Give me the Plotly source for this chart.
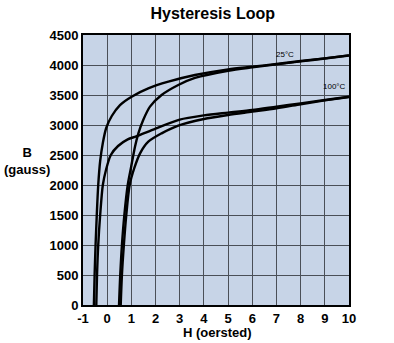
import plotly.graph_objects as go

# Magnetization curves, H in oersted, B in gauss
# 25 °C: descending and ascending branches
h_25_down = [-0.55, -0.52, -0.48, -0.43, -0.37, -0.29, -0.18, -0.04, 0.19, 0.53, 1.01, 1.70, 2.53, 3.63, 5, 6, 7, 8, 9, 10]
b_25_down = [0, 500, 1000, 1500, 2000, 2400, 2700, 2950, 3150, 3333, 3472, 3611, 3722, 3833, 3928, 3972, 4017, 4067, 4111, 4161]

h_25_up = [0.49, 0.54, 0.61, 0.71, 0.85, 0.99, 1.15, 1.29, 1.49, 1.77, 2.25, 2.94, 3.63, 5, 6, 7, 8, 9, 10]
b_25_up = [0, 500, 1000, 1500, 2000, 2300, 2639, 2861, 3083, 3306, 3500, 3667, 3785, 3905, 3961, 4011, 4060, 4108, 4158]

# 100 °C: descending and ascending branches
h_100_down = [-0.45, -0.42, -0.37, -0.29, -0.18, -0.05, 0.15, 0.45, 0.85, 1.20, 2.0, 3.0, 4, 5, 6, 7, 8, 9, 10]
b_100_down = [0, 500, 1000, 1500, 2000, 2250, 2500, 2650, 2760, 2810, 2940, 3090, 3160, 3206, 3250, 3306, 3361, 3417, 3472]

h_100_up = [0.56, 0.61, 0.69, 0.79, 0.93, 1.12, 1.36, 1.70, 2.25, 2.94, 4, 5, 6, 7, 8, 9, 10]
b_100_up = [0, 500, 1000, 1500, 2000, 2280, 2528, 2722, 2861, 2990, 3100, 3167, 3222, 3278, 3345, 3410, 3468]

x_ticks = list(range(-1, 11))
x_tick_text = [str(v) for v in x_ticks]
y_ticks = list(range(0, 4501, 500))

FONT = "Liberation Sans, Arial, Helvetica, sans-serif"

fig = go.Figure()
for hx, by in [(h_25_down, b_25_down), (h_25_up, b_25_up),
               (h_100_down, b_100_down), (h_100_up, b_100_up)]:
    fig.add_trace(go.Scatter(
        x=hx, y=by, mode="lines",
        line=dict(color="black", width=2.4, shape="spline", smoothing=0.8),
        hoverinfo="skip", showlegend=False,
    ))

fig.add_annotation(x=7.35, y=4175, text="25°C", showarrow=False,
                   font=dict(family=FONT, size=8, color="black"))
fig.add_annotation(x=9.42, y=3650, text="100°C", showarrow=False,
                   font=dict(family=FONT, size=8, color="black"))

# axis titles
fig.add_annotation(xref="paper", yref="paper", x=(27 - 83) / 266, y=(305 - 161) / 270,
                   xanchor="center", yanchor="middle",
                   text="B<br>(gauss)", showarrow=False, align="center",
                   font=dict(family=FONT, size=13, color="black", weight="bold"))
fig.add_annotation(xref="paper", yref="paper", x=(217 - 83) / 266, y=(305 - 332) / 270,
                   xanchor="center", yanchor="middle",
                   text="H (oersted)", showarrow=False,
                   font=dict(family=FONT, size=13, color="black", weight="bold"))

axis_common = dict(
    showgrid=True, gridcolor="#4a4f57", gridwidth=1,
    showline=True, linecolor="black", linewidth=2, mirror=True,
    ticks="", zeroline=False, automargin=False,
    tickfont=dict(family=FONT, size=13, color="black", weight="bold"),
)

fig.update_layout(
    width=394, height=343,
    margin=dict(l=83, r=45, t=35, b=38),
    paper_bgcolor="white",
    plot_bgcolor="#c7d4e7",
    title=dict(text="Hysteresis Loop", x=0.54, xanchor="center",
               y=1 - 13 / 343, yanchor="middle", yref="container",
               font=dict(family=FONT, size=16, color="black", weight="bold")),
    xaxis=dict(range=[-1, 10], tickvals=x_ticks, ticktext=x_tick_text, **axis_common),
    yaxis=dict(range=[0, 4500], tickvals=y_ticks, **axis_common),
)

fig.write_html("out.html")
